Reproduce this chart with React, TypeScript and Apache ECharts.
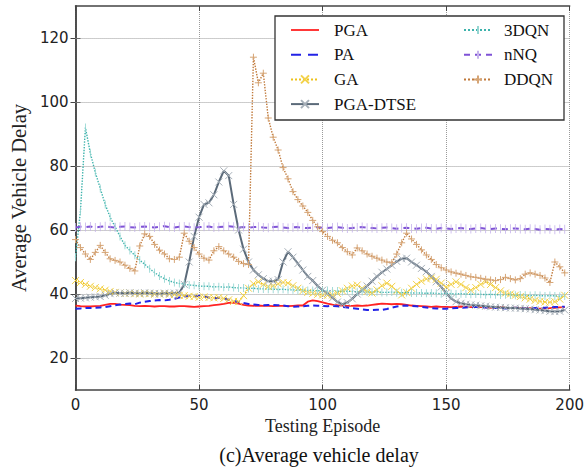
import React, { useEffect, useRef } from "react";
import * as echarts from "echarts";

// Episode index (every 2nd testing episode)
const episodes: number[] = Array.from({ length: 100 }, (_, i) => i * 2);

const yTicks = [20, 40, 60, 80, 100, 120];

const pga = [
  36.4, 36.2, 36.1, 36.1, 36.2, 36.3, 36.6, 36.9, 36.9, 36.7,
  36.6, 36.5, 36.3, 36.2, 36.3, 36.2, 36.1, 36.2, 36.2, 36.1,
  36.1, 36.2, 36.2, 36.1, 36.0, 36.1, 36.2, 36.3, 36.5, 36.7,
  36.9, 37.2, 37.3, 37.0, 36.6, 36.4, 36.3, 36.4, 36.3, 36.3,
  36.2, 36.3, 36.3, 36.2, 36.3, 36.4, 36.4, 37.6, 38.0, 37.8,
  37.4, 37.0, 36.7, 36.5, 36.4, 36.3, 36.3, 36.4, 36.3, 36.4,
  36.6, 36.8, 37.0, 36.9, 36.8, 36.9, 36.8, 36.6, 36.4, 36.3,
  36.2, 36.1, 36.0, 36.1, 36.0, 36.0, 35.9, 36.0, 36.1, 36.0,
  35.9, 35.9, 36.0, 35.8, 35.7, 35.8, 35.9, 35.7, 35.6, 35.7,
  35.6, 35.5, 35.6, 35.4, 35.4, 35.5, 35.6, 35.7, 35.8, 35.9,
];

const pa = [
  35.4, 35.5, 35.6, 35.6, 35.7, 35.8, 35.9, 36.2, 36.5, 36.7,
  36.9, 37.0, 36.8, 37.3, 37.6, 37.8, 38.0, 38.1, 38.0, 38.2,
  38.5, 38.9, 39.2, 39.4, 39.3, 39.4, 39.2, 38.9, 38.7, 38.8,
  38.6, 38.2, 37.8, 37.5, 37.2, 36.9, 36.7, 36.6, 36.5, 36.6,
  36.6, 36.5, 36.4, 36.2, 36.0, 36.1, 36.2, 36.3, 36.4, 36.3,
  36.3, 36.2, 36.3, 36.2, 36.0, 35.8, 35.6, 35.4, 35.2, 35.0,
  35.0, 35.1, 35.0, 35.3, 35.7, 36.1, 36.3, 36.4, 36.3, 36.2,
  36.0, 35.8, 35.6, 35.5, 35.4, 35.4, 35.5, 35.6, 35.7, 35.8,
  35.9, 36.0, 35.9, 35.8, 35.7, 35.6, 35.6, 35.5, 35.6, 35.7,
  35.6, 35.5, 35.5, 35.6, 35.6, 35.7, 35.8, 35.9, 36.0, 36.0,
];

const ga = [
  44.2, 43.6, 43.0, 42.4, 42.0, 41.6, 41.2, 40.8, 40.5, 40.3,
  40.2, 40.3, 40.1, 40.0, 40.2, 40.1, 39.9, 40.0, 40.1, 39.9,
  39.8, 39.6, 39.5, 39.3, 39.2, 39.0, 39.1, 38.9, 38.8, 38.9,
  38.6, 38.2, 37.7, 37.6, 39.5, 41.8, 43.2, 43.8, 43.0, 42.3,
  42.6, 43.2, 43.6, 43.4, 42.6, 41.8, 41.0, 40.5, 40.2, 39.9,
  39.7, 39.6, 39.7, 40.2, 41.0, 41.8, 42.5, 42.8, 41.8, 40.8,
  40.3, 41.3, 42.6, 43.4, 42.4, 41.0, 39.7, 40.5, 41.8, 43.0,
  44.0, 44.7, 45.0, 44.6, 43.4, 42.2, 43.0, 43.8, 43.0, 42.0,
  41.2, 42.0, 43.0, 43.8, 43.0, 42.0, 41.0, 40.3, 40.0, 39.6,
  39.2, 38.8, 38.4, 38.0, 37.7, 37.5, 37.4, 37.6, 38.4, 39.6,
];

const pgaDtse = [
  38.6, 38.7, 38.8, 39.0, 39.1, 39.2, 39.6, 40.1, 40.3, 40.3,
  40.2, 40.4, 40.3, 40.2, 40.4, 40.3, 40.2, 40.1, 40.3, 40.2,
  40.3, 40.4, 43.0, 50.0, 58.0, 64.0, 68.0, 68.5, 71.0, 75.0,
  78.5, 77.0, 68.0, 60.0, 54.0, 50.0, 47.5, 46.0, 44.8, 44.0,
  44.0, 44.5, 50.0, 53.2, 51.5, 49.5, 47.5, 45.5, 44.2, 42.5,
  41.2, 40.2, 38.8, 37.5, 36.8, 37.3, 38.5, 40.0, 41.2, 42.5,
  44.0, 45.5, 46.8, 47.8, 49.0, 50.2, 51.0, 51.2, 50.0, 49.0,
  48.0, 47.0, 45.5, 43.8, 42.2, 40.3, 38.6, 37.6, 37.1, 36.8,
  36.6, 36.5, 36.3, 36.2, 36.0, 35.9, 35.8, 35.7, 35.6, 35.6,
  35.5, 35.4, 35.3, 35.1, 35.0, 34.8, 34.6, 34.5, 34.6, 35.0,
];

const dqn3 = [
  51.5, 66.0, 92.0, 84.0, 78.0, 73.0, 68.0, 64.0, 61.0, 58.0,
  55.2, 53.6, 52.1, 50.6, 49.3, 47.9, 46.7, 45.6, 44.8, 44.1,
  43.6, 43.3, 43.1, 42.8, 42.7, 42.5, 42.4, 42.4, 42.2, 42.3,
  42.1, 42.2, 42.0, 41.9, 41.9, 41.7, 41.8, 41.6, 41.6, 41.5,
  41.5, 41.4, 41.5, 41.3, 41.3, 41.2, 41.3, 41.1, 41.1, 41.0,
  41.0, 41.1, 40.9, 40.9, 40.8, 40.9, 40.8, 40.7, 40.8, 40.6,
  40.6, 40.7, 40.5, 40.5, 40.6, 40.4, 40.4, 40.5, 40.3, 40.3,
  40.3, 40.2, 40.3, 40.2, 40.1, 40.2, 40.1, 40.0, 40.1, 40.0,
  39.9, 40.0, 39.9, 39.8, 39.9, 39.8, 39.7, 39.8, 39.7, 39.6,
  39.7, 39.6, 39.5, 39.6, 39.5, 39.4, 39.5, 39.4, 39.3, 39.4,
];

const nnq = [
  60.8, 61.0, 60.9, 61.1, 60.8, 61.0, 61.2, 60.9, 60.8, 61.0,
  61.1, 60.9, 60.8, 61.0, 61.1, 60.9, 60.8, 61.0, 61.2, 60.9,
  60.8, 61.0, 61.1, 60.9, 60.7, 60.9, 61.0, 61.1, 60.8, 60.9,
  61.0, 61.2, 61.0, 60.8, 60.9, 60.7, 60.9, 61.0, 60.8, 60.7,
  60.9, 61.0, 60.8, 60.6, 60.8, 60.9, 60.7, 60.6, 60.8, 60.9,
  60.7, 60.6, 60.8, 60.9, 60.7, 60.5, 60.6, 60.8, 60.9, 60.7,
  60.6, 60.5, 60.7, 60.8, 60.6, 60.4, 60.6, 60.7, 60.5, 60.4,
  60.6, 60.7, 60.5, 60.4, 60.6, 60.5, 60.3, 60.5, 60.6, 60.4,
  60.3, 60.5, 60.6, 60.4, 60.3, 60.5, 60.4, 60.2, 60.4, 60.5,
  60.3, 60.2, 60.4, 60.3, 60.1, 60.3, 60.2, 60.1, 60.3, 60.2,
];

const ddqn = [
  57.0, 54.5, 52.5, 50.8, 53.0, 55.2, 53.0, 51.0, 50.5, 50.0,
  49.0, 48.0, 47.2, 55.0, 58.8, 58.0, 55.5, 53.7, 52.5, 51.0,
  50.8, 51.5, 59.0, 56.5, 54.5, 52.5, 51.2, 50.6, 53.5, 54.8,
  53.5, 52.5, 51.5, 50.2, 49.5, 49.2, 114.0, 106.0, 109.0, 95.0,
  89.0, 85.0, 79.5, 76.0, 72.0, 69.5, 67.5, 65.5, 63.0, 61.0,
  59.5, 58.0, 56.8, 56.0, 54.5, 53.2, 52.2, 54.4, 53.5, 52.5,
  51.8, 51.2, 50.6, 50.0, 49.8, 52.5, 56.0, 59.0, 57.2, 55.5,
  53.8, 52.2, 50.8, 49.2, 48.2, 47.5, 46.9, 46.5, 46.2, 45.8,
  45.4, 45.2, 44.9, 44.6, 44.4, 44.2, 44.5, 45.2, 44.8, 44.4,
  44.8, 46.2, 46.6, 46.2, 45.8, 45.0, 43.6, 50.0, 48.5, 46.6,
];

const X_MARK = "path://M0,0L10,10M10,0L0,10";
const PLUS_MARK = "path://M5,0L5,10M0,5L10,5";
const BAR_MARK = "path://M0,0L0,0M5,0L5,10M10,10L10,10";
const SOLID_ICON = "path://M0,0L0,0M0,4.1L28,4.1L28,5.9L0,5.9ZM28,10L28,10";
const DASH_ICON = "path://M0,0L0,0M0,4L10,4L10,6L0,6ZM17,4L27,4L27,6L17,6ZM28,10L28,10";

const SERIF = "'Liberation Serif', 'DejaVu Serif', serif";
const SANS = "'DejaVu Sans', sans-serif";

function pairs(vals: number[]) {
  return vals.map((v, i) => [episodes[i], v]);
}

export default function App() {
  const ref = useRef<HTMLDivElement>(null);
  useEffect(() => {
    if (!ref.current) return;
    const chart = echarts.init(ref.current, undefined, { renderer: "svg" });
    const frame = { color: "#444", width: 1.5 };
    const legendText = { fontFamily: SERIF, fontSize: 17, color: "#111", lineHeight: 20 };
    const option: any = {
      animation: false,
      backgroundColor: "#fff",
      grid: { left: 75, right: 17, top: 6, bottom: 83 },
      xAxis: [
        {
          type: "value",
          min: 0,
          max: 200,
          interval: 50,
          position: "bottom",
          axisLine: { show: true, lineStyle: frame },
          axisTick: { show: true, inside: true, length: 5, lineStyle: { color: "#444" } },
          axisLabel: { color: "#222", fontSize: 15, fontFamily: SANS, margin: 7 },
          splitLine: { show: true, lineStyle: { type: "dotted", color: "#9a9a9a", width: 1 } },
          name: "Testing Episode",
          nameLocation: "middle",
          nameGap: 25,
          nameTextStyle: { fontFamily: SERIF, fontSize: 18, color: "#222" },
        },
        {
          type: "value",
          min: 0,
          max: 200,
          interval: 50,
          position: "top",
          axisLine: { show: true, lineStyle: frame },
          axisTick: { show: true, inside: true, length: 5, lineStyle: { color: "#444" } },
          axisLabel: { show: false },
          splitLine: { show: false },
        },
      ],
      yAxis: [
        {
          type: "value",
          min: 10,
          max: 130,
          position: "left",
          axisLine: { show: true, lineStyle: frame },
          axisTick: { show: true, inside: true, length: 5, customValues: yTicks, lineStyle: { color: "#444" } },
          axisLabel: { color: "#222", fontSize: 15, fontFamily: SANS, margin: 7, customValues: yTicks },
          splitLine: { show: false },
          name: "Average Vehicle Delay",
          nameLocation: "middle",
          nameGap: 42,
          nameTextStyle: { fontFamily: SERIF, fontSize: 20.5, color: "#222" },
        },
        {
          type: "value",
          min: 10,
          max: 130,
          position: "right",
          axisLine: { show: true, lineStyle: frame },
          axisTick: { show: true, inside: true, length: 5, customValues: yTicks, lineStyle: { color: "#444" } },
          axisLabel: { show: false },
          splitLine: { show: false },
        },
      ],
      legend: [
        {
          orient: "vertical",
          left: 285,
          top: 15,
          z: 20,
          itemWidth: 28,
          itemHeight: 10,
          itemGap: 4.7,
          data: [
            { name: "PGA", icon: SOLID_ICON },
            { name: "PA", icon: DASH_ICON },
            "GA",
            "PGA-DTSE",
          ],
          textStyle: { ...legendText, padding: [0, 0, 0, 10] },
        },
        {
          orient: "vertical",
          left: 458,
          top: 15,
          z: 20,
          itemWidth: 28,
          itemHeight: 10,
          itemGap: 4.7,
          data: ["3DQN", "nNQ", "DDQN"],
          textStyle: { ...legendText, padding: [0, 0, 0, 7] },
        },
      ],
      graphic: [
        {
          type: "rect",
          z: 10,
          shape: { x: 275, y: 16, width: 289, height: 104 },
          style: { fill: "#fff", stroke: "#333", lineWidth: 1.3 },
        },
        {
          type: "text",
          x: 319,
          y: 455,
          style: {
            text: "(c)Average vehicle delay",
            fontFamily: SERIF,
            fontSize: 20,
            fill: "#111",
            textAlign: "center",
            textVerticalAlign: "middle",
          },
        },
      ],
      series: [
        {
          name: "PGA",
          type: "line",
          data: pairs(pga),
          symbol: "none",
          z: 3,
          lineStyle: { color: "#ff2222", width: 1.8 },
          itemStyle: { color: "#ff2222" },
          markLine: {
            silent: true,
            symbol: ["none", "none"],
            label: { show: false },
            lineStyle: { type: "dotted", color: "#9a9a9a", width: 1 },
            data: yTicks.map((v) => ({ yAxis: v })),
            z: 1,
          },
        },
        {
          name: "PA",
          type: "line",
          data: pairs(pa),
          symbol: "none",
          z: 3,
          lineStyle: { color: "#2323e6", width: 2, type: [6, 4] },
          itemStyle: { color: "#2323e6" },
        },
        {
          name: "GA",
          type: "line",
          data: pairs(ga),
          symbol: X_MARK,
          symbolSize: 7,
          z: 3,
          lineStyle: { color: "#eec21a", width: 1.3, type: "dotted" },
          itemStyle: { color: "#eec21a", borderColor: "#f3d24a", borderWidth: 1 },
        },
        {
          name: "PGA-DTSE",
          type: "line",
          data: pairs(pgaDtse),
          symbol: X_MARK,
          symbolSize: 7,
          z: 3,
          lineStyle: { color: "#5b6a79", width: 2 },
          itemStyle: { color: "#5b6a79", borderColor: "#a7b0b9", borderWidth: 1 },
        },
        {
          name: "3DQN",
          type: "line",
          data: pairs(dqn3),
          symbol: BAR_MARK,
          symbolSize: [6, 8],
          z: 3,
          lineStyle: { color: "#3db3ac", width: 1.4, type: "dotted" },
          itemStyle: { color: "#3db3ac", borderColor: "#95d6d2", borderWidth: 1 },
        },
        {
          name: "nNQ",
          type: "line",
          data: pairs(nnq),
          symbol: BAR_MARK,
          symbolSize: [6, 9],
          z: 3,
          lineStyle: { color: "#7f52d6", width: 2, type: [6, 5] },
          itemStyle: { color: "#7f52d6", borderColor: "#c6b3ec", borderWidth: 1 },
        },
        {
          name: "DDQN",
          type: "line",
          data: pairs(ddqn),
          symbol: PLUS_MARK,
          symbolSize: 7,
          z: 3,
          lineStyle: { color: "#c0793a", width: 1.4, type: "dotted" },
          itemStyle: { color: "#c0793a", borderColor: "#d6a576", borderWidth: 1 },
        },
      ],
    };
    chart.setOption(option);
    return () => chart.dispose();
  }, []);
  return (
    <div
      ref={ref}
      style={{ position: "absolute", left: 0, top: 0, width: 587, height: 473, background: "#fff" }}
    />
  );
}
